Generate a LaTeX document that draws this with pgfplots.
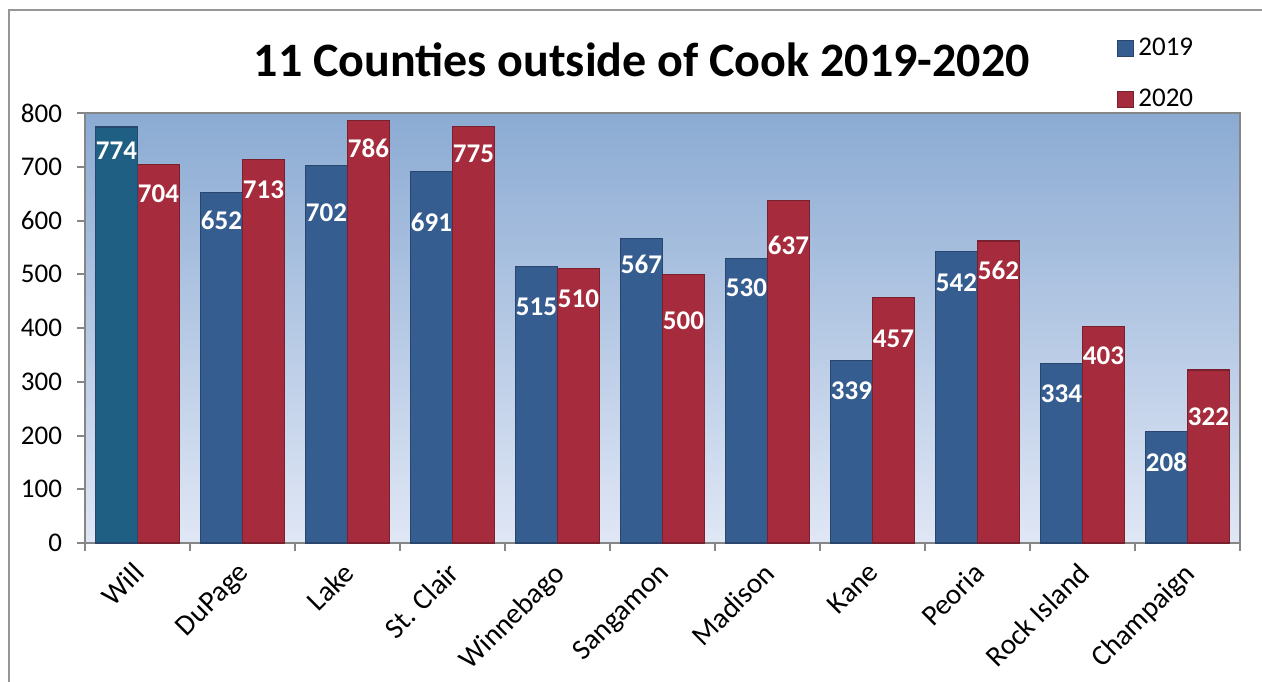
\documentclass[border=0pt]{standalone}
\usepackage{pgfplots}
\pgfplotsset{compat=1.18}
\usepackage{pgfplotstable}
\usepackage{fontspec}
\setmainfont{Carlito}

\definecolor{bgtop}{RGB}{139,171,211}
\definecolor{bgbot}{RGB}{224,231,245}
\definecolor{axisgray}{RGB}{134,134,134}
\definecolor{framegray}{RGB}{150,150,150}
\definecolor{blue19}{RGB}{54,93,144}
\definecolor{edge19}{RGB}{40,70,110}
\definecolor{teal19}{RGB}{31,95,132}
\definecolor{red20}{RGB}{166,43,60}
\definecolor{edge20}{RGB}{120,32,46}

% values and label offsets (pt below bar top)
\pgfplotstableread{
x v19 v20 o19 o20
0 774 704 12.0 14.8
1 652 713 13.7 14.8
2 702 786 23.5 13.8
3 691 775 25.5 13.8
4 515 510 20.5 14.8
5 567 500 13.0 23.3
6 530 637 15.0 22.5
7 339 457 15.0 20.5
8 542 562 15.3 14.7
9 334 403 15.3 14.5
10 208 322 15.3 23.5
}\data

\begin{document}
\begin{tikzpicture}
\useasboundingbox (-42.5pt,-69pt) rectangle (588.5pt,271.5pt);
\draw[framegray, line width=1pt] (-38pt,-80pt) -- (-38pt,266.5pt) -- (600pt,266.5pt);
\begin{axis}[
    at={(0pt,0pt)}, anchor=south west,
    scale only axis, width=577.5pt, height=215pt,
    ymin=0, ymax=800, xmin=-0.5, xmax=10.5,
    ybar=0pt, bar width=0.4,
    axis background/.style={top color=bgtop, bottom color=bgbot},
    axis line style={axisgray, line width=1pt},
    ytick={0,100,...,800},
    xtick={0,...,10},
    xticklabels={Will,DuPage,Lake,St. Clair,Winnebago,Sangamon,Madison,Kane,Peoria,Rock Island,Champaign},
    xtick style={draw=none},
    extra x ticks={-0.5,0.5,...,10.5},
    extra x tick labels={},
    extra x tick style={xtick style={draw=axisgray, line width=1pt}},
    ytick style={draw=axisgray, line width=1pt},
    tick align=outside, tick pos=left,
    major tick length=4pt,
    /pgf/number format/assume math mode=true,
    yticklabel style={font=\fontsize{13.5}{15}\selectfont, xshift=-4pt},
    xticklabel style={font=\fontsize{14.5}{16}\selectfont, rotate=45, anchor=north east,
        xshift=-2pt, yshift=2pt},
    title={11 Counties outside of Cook 2019-2020},
    title style={at={(axis description cs:0.482,1.096)}, anchor=center,
        font=\bfseries\fontsize{24}{29}\selectfont},
    legend style={at={(axis description cs:0.8935,1.184)}, anchor=north west,
        draw=none, fill=none, font=\fontsize{13.5}{15}\selectfont,
        row sep=11pt, inner sep=0pt},
    legend cell align=left,
    nodes near coords={\pgfmathprintnumber[fixed,precision=0]{\pgfplotspointmeta}},
    every node near coord/.append style={font=\bfseries\fontsize{13.5}{15}\selectfont,
        text=white, anchor=center, yshift=-\off*1pt},
]
\addlegendimage{legend image code/.code={\draw[fill=blue19, draw=edge19, line width=0.5pt] (0pt,-4pt) rectangle (8pt,4pt);}}
\addlegendentry{2019}
\addlegendimage{legend image code/.code={\draw[fill=red20, draw=edge20, line width=0.5pt] (0pt,-4pt) rectangle (8pt,4pt);}}
\addlegendentry{2020}
\addplot[fill=blue19, draw=edge19, line width=0.6pt, bar shift=-0.2, forget plot,
    skip coords between index={0}{1},
    visualization depends on={\thisrow{o19} \as \off}]
    table[x=x, y=v19] {\data};
\addplot[fill=red20, draw=edge20, line width=0.6pt, bar shift=0.2, forget plot,
    visualization depends on={\thisrow{o20} \as \off}]
    table[x=x, y=v20] {\data};
\addplot[fill=teal19, draw=edge19, line width=0.6pt, bar shift=-0.2, forget plot,
    skip coords between index={1}{11},
    visualization depends on={\thisrow{o19} \as \off}]
    table[x=x, y=v19] {\data};
\end{axis}
\end{tikzpicture}
\end{document}
